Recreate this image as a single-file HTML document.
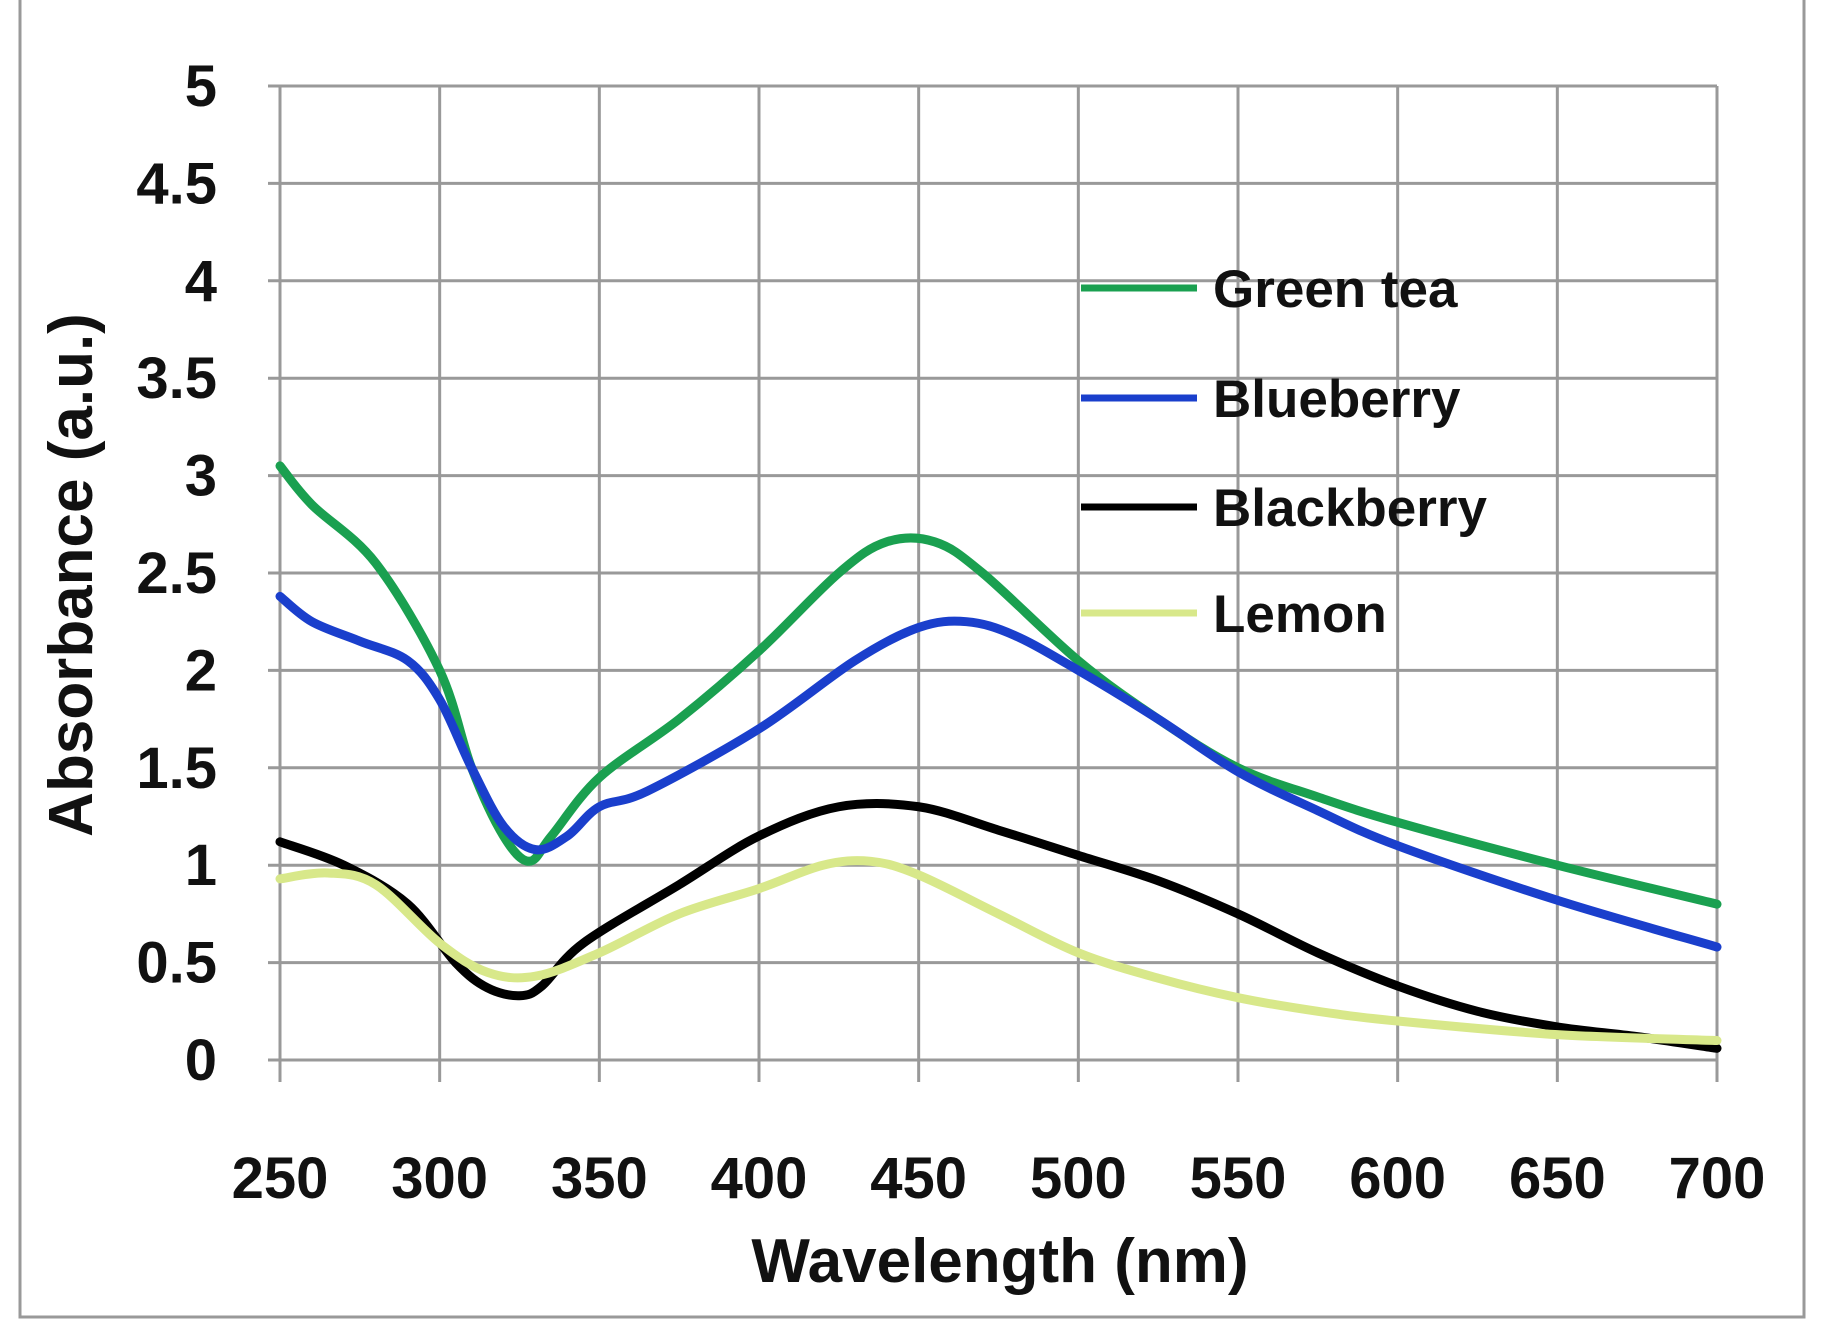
<!DOCTYPE html>
<html><head><meta charset="utf-8"><style>
html,body{margin:0;padding:0;background:#fff;}
svg{display:block;}
text{font-family:"Liberation Sans",sans-serif;font-weight:bold;fill:#111;}
</style></head><body>
<svg id="s" width="1823" height="1338" viewBox="0 0 1823 1338" xmlns="http://www.w3.org/2000/svg">
<rect x="20" y="-10" width="1784" height="1327" fill="none" stroke="#999" stroke-width="3"/>
<g id="grid" stroke="#999" stroke-width="3"></g>
<g id="lab"></g>
<g id="series" fill="none" stroke-linejoin="round" stroke-linecap="round"></g>
<text x="1000" y="1282" font-size="62" text-anchor="middle">Wavelength (nm)</text>
<text transform="translate(92,575) rotate(-90)" font-size="62" text-anchor="middle">Absorbance (a.u.)</text>
<g stroke-width="7">
<line x1="1081" y1="288" x2="1197" y2="288" stroke="#1aa050"/>
<line x1="1081" y1="398" x2="1197" y2="398" stroke="#1a3fcc"/>
<line x1="1081" y1="507" x2="1197" y2="507" stroke="#000"/>
<line x1="1081" y1="613" x2="1197" y2="613" stroke="#d8e88a"/>
</g>
<g font-size="53">
<text x="1213" y="307">Green tea</text>
<text x="1213" y="417">Blueberry</text>
<text x="1213" y="526">Blackberry</text>
<text x="1213" y="632">Lemon</text>
</g>
</svg>
<script>
var X=function(w){return 280+(w-250)*(1437/450);};
var Y=function(a){return 1060-a*(974/5);};
var NS="http://www.w3.org/2000/svg";
function el(p,t,at,tx){var e=document.createElementNS(NS,t);for(var k in at)e.setAttribute(k,at[k]);if(tx!==undefined)e.textContent=tx;document.getElementById(p).appendChild(e);}
for(var i=0;i<=10;i++){var y=Y(i*0.5);el("grid","line",{x1:268,x2:1717,y1:y,y2:y});
 el("lab","text",{x:217,y:y+20,"font-size":58,"text-anchor":"end"},(i*0.5).toString());}
for(var w=250;w<=700;w+=50){var x=X(w);el("grid","line",{x1:x,x2:x,y1:Y(5),y2:1082});
 el("lab","text",{x:x,y:1198,"font-size":58,"text-anchor":"middle"},w);}
var S=[
["#1aa050",[[250,3.05],[260,2.85],[280,2.55],[300,2.0],[310,1.5],[320,1.15],[328,1.02],[335,1.15],[350,1.45],[375,1.75],[400,2.1],[425,2.5],[440,2.66],[455,2.66],[470,2.5],[500,2.05],[525,1.75],[550,1.5],[575,1.35],[600,1.22],[650,1.0],[700,0.8]]],
["#1a3fcc",[[250,2.38],[260,2.25],[275,2.15],[290,2.05],[300,1.85],[310,1.5],[320,1.2],[330,1.08],[340,1.15],[350,1.3],[365,1.38],[400,1.7],[430,2.05],[450,2.22],[465,2.25],[480,2.18],[500,2.0],[525,1.75],[550,1.48],[575,1.28],[600,1.1],[650,0.82],[700,0.58]]],
["#000",[[250,1.12],[270,1.0],[290,0.8],[305,0.5],[315,0.37],[325,0.33],[332,0.38],[345,0.6],[375,0.9],[400,1.15],[425,1.3],[450,1.3],[475,1.18],[500,1.05],[525,0.92],[550,0.75],[575,0.55],[600,0.38],[625,0.25],[650,0.17],[675,0.12],[700,0.06]]],
["#d8e88a",[[250,0.93],[265,0.96],[280,0.9],[300,0.6],[315,0.45],[330,0.43],[350,0.55],[375,0.75],[400,0.88],[420,1.0],[435,1.02],[450,0.95],[475,0.75],[500,0.55],[525,0.42],[550,0.32],[575,0.25],[600,0.2],[650,0.13],[700,0.1]]]
];
S.forEach(function(s){var p=s[1].map(function(q){return [X(q[0]),Y(q[1])];});
 var d="M"+p[0][0]+","+p[0][1];
 for(var i=0;i<p.length-1;i++){var p0=p[Math.max(0,i-1)],p1=p[i],p2=p[i+1],p3=p[Math.min(p.length-1,i+2)];
  var c1=[p1[0]+(p2[0]-p0[0])/6,p1[1]+(p2[1]-p0[1])/6],c2=[p2[0]-(p3[0]-p1[0])/6,p2[1]-(p3[1]-p1[1])/6];
  d+=" C"+c1[0]+","+c1[1]+" "+c2[0]+","+c2[1]+" "+p2[0]+","+p2[1];}
 el("series","path",{d:d,stroke:s[0],"stroke-width":9});});
</script>
</body></html>
